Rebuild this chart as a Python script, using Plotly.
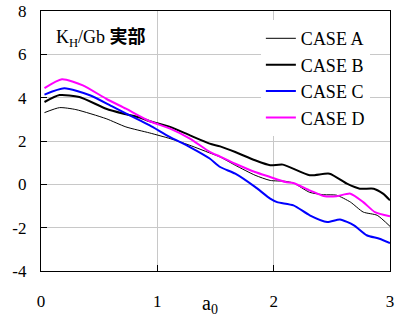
import plotly.graph_objects as go

# ---- data ----
case_a_x = [0.03, 0.16, 0.30, 0.56, 0.73, 0.935, 1.11, 1.28, 1.45, 1.54, 1.67, 1.84, 1.97, 2.10, 2.17, 2.31, 2.43, 2.54, 2.66, 2.77, 2.89, 3.0]
case_a_y = [3.31, 3.54, 3.45, 3.03, 2.65, 2.37, 2.11, 1.80, 1.45, 1.26, 0.88, 0.42, 0.18, 0.14, 0.06, -0.37, -0.48, -0.50, -0.82, -1.28, -1.43, -1.94]

case_b_x = [0.03, 0.16, 0.33, 0.56, 0.71, 0.85, 0.935, 1.11, 1.28, 1.45, 1.54, 1.67, 1.84, 1.97, 2.08, 2.31, 2.48, 2.63, 2.74, 2.86, 2.94, 3.0]
case_b_y = [3.80, 4.12, 4.03, 3.49, 3.26, 3.08, 2.91, 2.65, 2.26, 1.88, 1.75, 1.49, 1.11, 0.88, 0.91, 0.42, 0.49, 0.03, -0.20, -0.20, -0.43, -0.74]

case_c_x = [0.03, 0.20, 0.42, 0.62, 0.85, 0.935, 1.11, 1.28, 1.45, 1.54, 1.67, 1.84, 1.97, 2.03, 2.17, 2.31, 2.46, 2.57, 2.69, 2.80, 2.91, 3.0]
case_c_y = [4.14, 4.43, 4.11, 3.57, 2.95, 2.72, 2.18, 1.72, 1.19, 0.80, 0.49, -0.12, -0.66, -0.82, -0.97, -1.43, -1.74, -1.62, -1.89, -2.35, -2.51, -2.71]

case_d_x = [0.03, 0.18, 0.36, 0.56, 0.73, 0.935, 1.11, 1.28, 1.45, 1.54, 1.67, 1.84, 1.97, 2.10, 2.17, 2.31, 2.43, 2.54, 2.66, 2.77, 2.87, 3.0]
case_d_y = [4.44, 4.85, 4.57, 3.95, 3.49, 2.91, 2.57, 2.11, 1.50, 1.28, 0.95, 0.57, 0.34, 0.11, 0.06, -0.28, -0.54, -0.55, -0.43, -0.82, -1.28, -1.48]

series_names = ["CASE A", "CASE B", "CASE C", "CASE D"]
x_ticks = [0, 1, 2, 3]
y_ticks = [-4, -2, 0, 2, 4, 6, 8]

SERIF = "Liberation Serif"

fig = go.Figure()
styles = [("#000000", 1.0), ("#000000", 2.0), ("#0000ff", 2.0), ("#ff00ff", 2.0)]
data = [(case_a_x, case_a_y), (case_b_x, case_b_y), (case_c_x, case_c_y), (case_d_x, case_d_y)]
for name, (xs, ys), (col, w) in zip(series_names, data, styles):
    fig.add_trace(go.Scatter(
        x=xs, y=ys, mode="lines", name=name, legendgroup=name,
        line=dict(color=col, width=w, shape="spline", smoothing=0.6),
    ))

fig.update_layout(
    width=395, height=316,
    margin=dict(l=41, r=5, t=11, b=45, autoexpand=False),
    paper_bgcolor="white", plot_bgcolor="white",
    font=dict(family=SERIF, size=17, color="black"),
    showlegend=True,
    legend=dict(
        x=0.63, y=0.965, xanchor="left", yanchor="top",
        bgcolor="white", borderwidth=0,
        font=dict(family=SERIF, size=18, color="black"),
        tracegroupgap=0,
    ),
)

fig.update_xaxes(
    range=[0, 3], tickvals=x_ticks, ticktext=[str(v) for v in x_ticks],
    showgrid=True, gridcolor="#c8c8c8", gridwidth=1,
    showline=True, linecolor="black", linewidth=1.3, mirror=True,
    ticks="inside", ticklen=6, tickcolor="black",
    ticklabelstandoff=14, zeroline=False, automargin=False,
    tickfont=dict(family=SERIF, size=17),
)
fig.update_yaxes(
    range=[-4, 8], tickvals=y_ticks, ticktext=[str(v) for v in y_ticks],
    showgrid=True, gridcolor="#c8c8c8", gridwidth=1,
    showline=True, linecolor="black", linewidth=1.3, mirror=True,
    ticks="inside", ticklen=6, tickcolor="black",
    ticklabelstandoff=10, zeroline=False, automargin=False,
    tickfont=dict(family=SERIF, size=17),
)

fig.add_annotation(
    xref="paper", yref="paper", x=0.036, y=0.905, xanchor="left", yanchor="middle",
    text='K<sub>H</sub>/Gb <span style="font-family:\'Noto Sans CJK JP\';font-weight:bold">実部</span>',
    showarrow=False, font=dict(family=SERIF, size=18, color="black"),
)
fig.add_annotation(
    xref="paper", yref="paper", x=0.485, y=-0.13, xanchor="center", yanchor="middle",
    text="a<sub>0</sub>", showarrow=False, font=dict(family=SERIF, size=20, color="black"),
)

fig.write_html("out.html", config={"displayModeBar": False},
               post_script="document.body.style.margin='0px';")
